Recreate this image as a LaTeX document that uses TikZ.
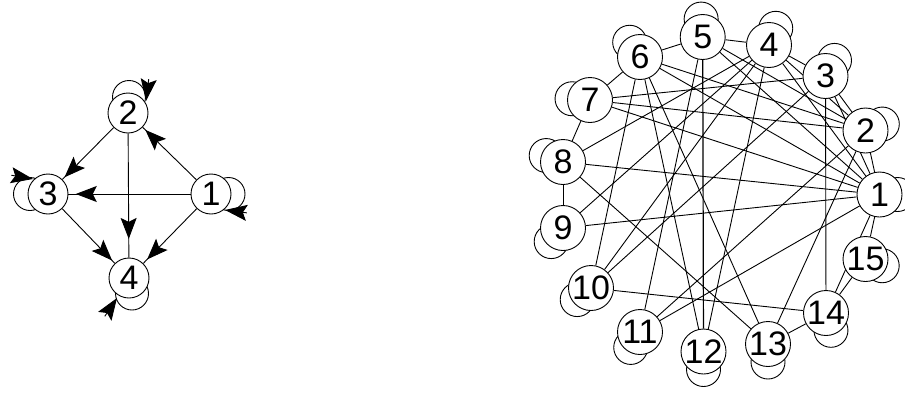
\documentclass[tikz,border=0pt]{standalone}
\usepackage{fontspec}
\setmainfont{Liberation Sans}
\usetikzlibrary{arrows.meta,calc,decorations.markings}
\pgfdeclarelayer{bg}
\pgfsetlayers{bg,main}
\begin{document}
\begin{tikzpicture}[x=1pt,y=-1pt,
  nd/.style={circle,draw,fill=white,inner sep=0pt,line width=0.9pt,font=\fontsize{34}{34}\selectfont},
  lnd/.style={nd,minimum size=40pt},
  rnd/.style={nd,minimum size=45pt},
  ln/.style={line width=0.9pt},
  loopc/.style={line width=0.9pt},
  arrowtip/.style={-{Stealth[length=22pt,width=16pt,inset=4pt]},line width=0.9pt},
  marr/.style={postaction={decorate},decoration={markings,mark=at position #1 with {\arrow{Stealth[length=21pt,width=16pt,inset=4pt]}}}}]
\useasboundingbox (0,0) rectangle (905,394);
% left graph
\node[lnd] (l1) at (211,194) {1};
\node[lnd] (l2) at (128,113) {2};
\node[lnd] (l3) at (48,194) {3};
\node[lnd] (l4) at (129,278) {4};
% right graph
\node[rnd] (r1) at (879.5,194.5) {1};
\node[rnd] (r2) at (865.5,130.5) {2};
\node[rnd] (r3) at (825.5,76) {3};
\node[rnd] (r4) at (769,45) {4};
\node[rnd] (r5) at (702.7,37) {5};
\node[rnd] (r6) at (640,57) {6};
\node[rnd] (r7) at (590,100) {7};
\node[rnd] (r8) at (563,162) {8};
\node[rnd] (r9) at (563,228) {9};
\node[rnd] (r10) at (591,288) {10};
\node[rnd] (r11) at (640,332) {11};
\node[rnd] (r12) at (703.5,351.5) {12};
\node[rnd] (r13) at (768,344) {13};
\node[rnd] (r14) at (826,313) {14};
\node[rnd] (r15) at (865.5,259) {15};
\begin{pgfonlayer}{bg}
  % left edges
  \draw[ln,marr=0.95] (l1) -- (l2);
  \draw[ln,marr=0.96] (l2) -- (l3);
  \draw[ln,marr=0.85] (l2) -- (l4);
  \draw[ln,marr=0.94] (l1) -- (l3);
  \draw[ln,marr=0.93] (l1) -- (l4);
  \draw[ln,marr=0.95] (l3) -- (l4);
  % left loops
  \draw[loopc] ($(l1)+(17.5,0)$) circle[radius=16.5pt];
  \draw[loopc] ($(l2)+(1,-16)$) circle[radius=16.5pt];
  \draw[loopc] ($(l3)+(-18,0)$) circle[radius=16.5pt];
  \draw[loopc] ($(l4)+(3,15.5)$) circle[radius=16.5pt];
  % right edges
  \foreach \a/\b in {1/2,1/3,1/4,1/5,1/6,1/7,1/8,1/9,1/11,1/14,1/15,
      2/3,2/4,2/5,2/6,2/7,2/11,2/13,
      3/4,3/7,3/10,3/14,
      4/5,4/8,4/9,4/10,4/12,
      5/6,5/11,
      6/7,6/10,6/12,6/13,
      7/8,8/9,8/13,10/14,13/14,14/15}
    \draw[ln] (r\a) -- (r\b);
  \draw[line width=1.2pt] (r5) -- (r12);
  % right loops
  \foreach \n/\ang in {1/0,2/21,3/60,4/68,5/95,6/125,7/176,8/159,9/229,10/220,11/239,12/270,13/270,14/286,15/338}
    \draw[loopc] ($(r\n)+(\ang:18pt)$) circle[radius=17pt];
\end{pgfonlayer}
% loop arrowheads (left graph)
\coordinate (t1) at ($(l1)+(14,16)$);  \coordinate (b1) at ($(l1)+(37,19)$);
\coordinate (t2) at ($(l2)+(18,-12)$); \coordinate (b2) at ($(l2)+(20,-28)$);
\coordinate (t3) at ($(l3)+(-15,-15)$);\coordinate (b3) at ($(l3)+(-38,-19)$);
\coordinate (t4) at ($(l4)+(-12,20)$); \coordinate (b4) at ($(l4)+(-22,35)$);
\foreach \i in {1,2,3,4}
  \draw[arrowtip] ($(t\i)!22pt!(b\i)$) -- (t\i);
\end{tikzpicture}
\end{document}
